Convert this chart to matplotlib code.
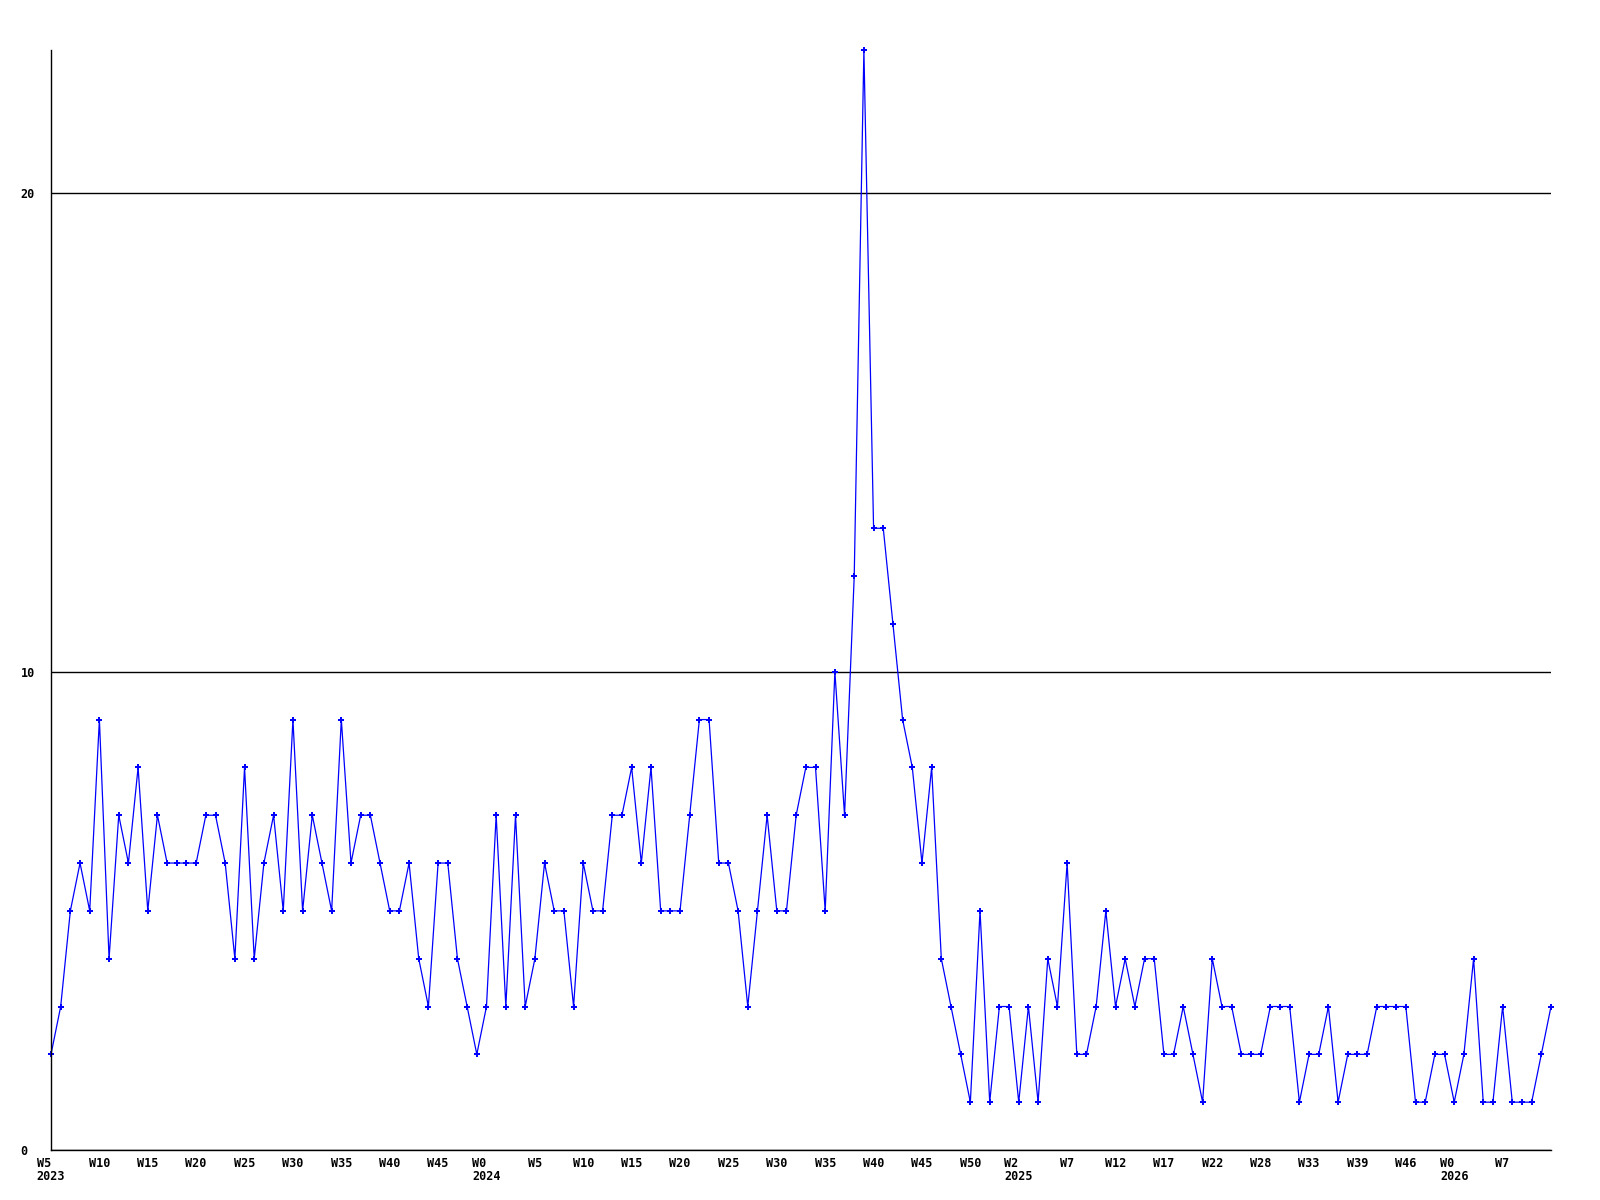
import numpy as np
import matplotlib.pyplot as plt

# weekly counts, one value per week
counts = [
    2, 3, 5, 6, 5, 9, 4, 7, 6, 8, 5, 7, 6,
    6, 6, 6, 7, 7, 6, 4, 8, 4, 6,
    7, 5, 9, 5, 7, 6, 5, 9, 6, 7,
    7, 6, 5, 5, 6, 4, 3, 6, 6, 4,
    3, 2, 3, 7, 3, 7, 3, 4, 6, 5,
    5, 3, 6, 5, 5, 7, 7, 8, 6, 8,
    5, 5, 5, 7, 9, 9, 6, 6, 5, 3,
    5, 7, 5, 5, 7, 8, 8, 5, 10, 7,
    12, 23, 13, 13, 11, 9, 8, 6, 8, 4,
    3, 2, 1, 5, 1, 3, 3, 1, 3, 1,
    4, 3, 6, 2, 2, 3, 5, 3, 4, 3,
    4, 4, 2, 2, 3, 2, 1, 4, 3, 3,
    2, 2, 2, 3, 3, 3, 1, 2, 2, 3,
    1, 2, 2, 2, 3, 3, 3, 3, 1, 1,
    2, 2, 1, 2, 4, 1, 1, 3, 1, 1,
    1, 2, 3,
]

week_labels = [
    "W5", "W10", "W15", "W20", "W25", "W30", "W35", "W40", "W45",
    "W0", "W5", "W10", "W15", "W20", "W25", "W30", "W35", "W40", "W45", "W50",
    "W2", "W7", "W12", "W17", "W22", "W28", "W33", "W39", "W46",
    "W0", "W7",
]
year_labels = {0: "2023", 9: "2024", 20: "2025", 29: "2026"}
label_step = 5

y_ticks = [0, 10, 20]

x = np.arange(len(counts))
tick_pos = np.arange(len(week_labels)) * label_step
tick_text = [
    w + ("\n" + year_labels[i] if i in year_labels else "")
    for i, w in enumerate(week_labels)
]

fig = plt.figure(figsize=(16, 12), dpi=100)
ax = fig.add_axes([51 / 1600, 50 / 1200, 1500 / 1600, 1100 / 1200])

ax.plot(x, counts, "-", color="#0000ff", linewidth=0.9,
        marker="P", markersize=5, markeredgewidth=0, clip_on=False)

ax.set_xlim(0, len(counts) - 1)
ax.set_ylim(0, 23)

ax.set_yticks(y_ticks)
ax.set_yticklabels([str(v) for v in y_ticks])
ax.yaxis.grid(True, color="black", linewidth=1)
ax.set_axisbelow(True)

ax.set_xticks(tick_pos)
ax.set_xticklabels(tick_text)

ax.tick_params(axis="both", length=0)
ax.tick_params(axis="x", pad=5)
ax.tick_params(axis="y", pad=22)

for lab in ax.get_xticklabels():
    lab.set_family("DejaVu Sans Mono")
    lab.set_weight("bold")
    lab.set_fontsize(8.5)
    lab.set_multialignment("left")
    lab.set_linespacing(1.0)
for lab in ax.get_yticklabels():
    lab.set_family("DejaVu Sans Mono")
    lab.set_weight("bold")
    lab.set_fontsize(8.5)
    lab.set_horizontalalignment("left")

ax.spines["top"].set_visible(False)
ax.spines["right"].set_visible(False)
ax.spines["left"].set_linewidth(1)
ax.spines["bottom"].set_linewidth(1)

plt.savefig("out.png", dpi=100)
